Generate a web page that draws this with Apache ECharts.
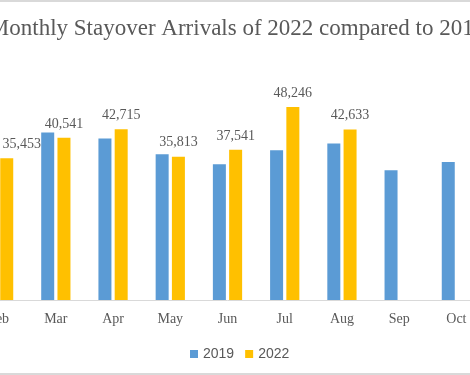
<!DOCTYPE html>
<html>
<head>
<meta charset="utf-8">
<script src="https://cdn.jsdelivr.net/npm/echarts@6/dist/echarts.min.js"></script>
<style>
  html, body { margin: 0; padding: 0; background: #fff; }
  .frame {
    position: relative;
    width: 470px;
    height: 375px;
    overflow: hidden;
    background: #fff;
  }
  .frame::before, .frame::after {
    content: '';
    position: absolute;
    left: 0;
    right: 0;
    height: 2px;
    background: #d9d9d9;
    z-index: 2;
  }
  .frame::before { top: 0; }
  .frame::after { bottom: 0; }
  /* the picture is a crop of a wider chart, so the chart box sticks out on both sides */
  #chart {
    position: absolute;
    left: -100px;
    top: 0;
    width: 674px;
    height: 375px;
  }
</style>
</head>
<body>
<div class="frame">
  <div id="chart"></div>
</div>
<script>
const months = ['Feb', 'Mar', 'Apr', 'May', 'Jun', 'Jul', 'Aug', 'Sep', 'Oct']
// Feb 2019 falls outside the cropped picture
const arrivals2019 = [null, 41860, 40360, 36440, 33950, 37440, 39110, 32450, 34520]
const arrivals2022 = [35453, 40541, 42715, 35813, 37541, 48246, 42633, null, null]
const seriesNames = ['2019', '2022']

const textColor = '#595959'
const serif = '"Liberation Serif", "DejaVu Serif", serif'

const chart = echarts.init(document.getElementById('chart'), null, { renderer: 'canvas' })

// Excel pushed the first label inwards so it stays inside the chart edge
const data2022 = arrivals2022.map((v, i) =>
  i === 0 ? { value: v, label: { offset: [15, 0] } } : v
)

const option = {
  animation: false,
  title: {
    text: 'Monthly Stayover Arrivals of 2022 compared to 2019',
    left: 'center',
    top: 12,
    textStyle: {
      color: textColor,
      fontFamily: serif,
      fontWeight: 'normal',
      fontSize: 23
    }
  },
  legend: {
    data: seriesNames,
    left: 285,
    top: 342,
    itemWidth: 8,
    itemHeight: 8,
    itemGap: 11,
    icon: 'rect',
    textStyle: {
      color: textColor,
      fontFamily: '"Liberation Sans", Arial, sans-serif',
      fontSize: 14
    }
  },
  grid: {
    left: 70,
    right: 89,
    top: 60,
    bottom: 75
  },
  xAxis: {
    type: 'category',
    data: months,
    axisLine: { lineStyle: { color: '#d9d9d9', width: 1 } },
    axisTick: { show: false },
    axisLabel: {
      color: textColor,
      fontFamily: serif,
      fontSize: 14,
      margin: 12
    }
  },
  yAxis: {
    type: 'value',
    min: 0,
    max: 60000,
    show: false,
    splitLine: { show: false }
  },
  series: [
    {
      name: seriesNames[0],
      type: 'bar',
      data: arrivals2019,
      barWidth: 13,
      barGap: '25%',
      itemStyle: { color: '#5b9bd5' }
    },
    {
      name: seriesNames[1],
      type: 'bar',
      data: data2022,
      barWidth: 13,
      itemStyle: { color: '#ffc000' },
      label: {
        show: true,
        position: 'top',
        distance: 7,
        color: textColor,
        fontFamily: serif,
        fontSize: 14,
        formatter: p => p.value.toLocaleString('en-US')
      }
    }
  ]
}

chart.setOption(option)
</script>
</body>
</html>
